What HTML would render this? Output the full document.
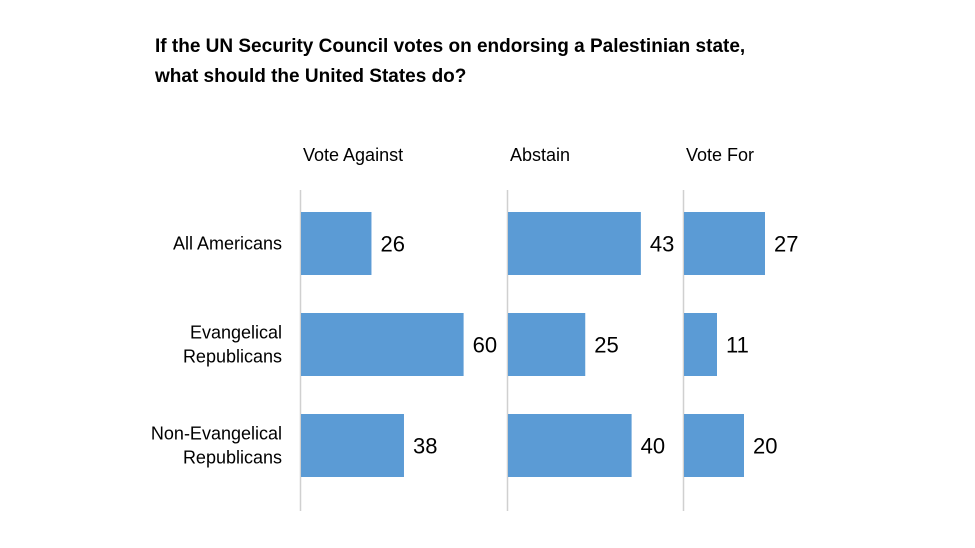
<!DOCTYPE html>
<html><head><meta charset="utf-8"><style>
body{margin:0;background:#fff;}
svg{display:block;font-family:"Liberation Sans",sans-serif;}
</style></head><body>
<svg id="chart" width="975" height="548">
<text x="155" y="52" font-size="19" font-weight="bold" fill="#000">If the UN Security Council votes on endorsing a Palestinian state,</text>
<text x="155" y="82" font-size="19" font-weight="bold" fill="#000">what should the United States do?</text>
<g id="plot"></g>
</svg>
<script>
const categories = [["All Americans"],["Evangelical","Republicans"],["Non-Evangelical","Republicans"]];
const panels = ["Vote Against","Abstain","Vote For"];
const voteAgainst = [26,60,38];
const abstain = [43,25,40];
const voteFor = [27,11,20];
const series = [voteAgainst, abstain, voteFor];

const ns="http://www.w3.org/2000/svg";
const g=document.getElementById('plot');
const panelX=[301,508,684], panelScale=[2.71,3.09,3.0];
const rowTop=[212,313,414], barH=63;
function mk(t,a,txt){const e=document.createElementNS(ns,t);for(const k in a)e.setAttribute(k,a[k]);if(txt!==undefined)e.textContent=txt;g.appendChild(e);return e;}
function xScale(p,v){return panelX[p]+v*panelScale[p];}
categories.forEach((c,i)=>{
  const cy=rowTop[i]+barH/2;
  c.forEach((line,j)=>{
    const e=mk('text',{x:282,y:cy+6+(j-(c.length-1)/2)*24,'font-size':18,'text-anchor':'end',fill:'#000'},line);
    
    
  });
});
panels.forEach((p,pi)=>{
  const h=mk('text',{x:panelX[pi]+2,y:161,'font-size':18,fill:'#000'},p);
  
  
  const ax=mk('line',{x1:panelX[pi]-0.5,x2:panelX[pi]-0.5,y1:190,y2:511,stroke:'#d0d0d0','stroke-width':1.5});
  
  
  series[pi].forEach((v,i)=>{
    const x1=xScale(pi,v);
    const r=mk('rect',{x:panelX[pi],y:rowTop[i],width:x1-panelX[pi],height:barH,fill:'#5b9bd5'});
    
    
    const t=mk('text',{x:x1+9,y:rowTop[i]+barH/2+8,'font-size':22,fill:'#000'},String(v));
    
    
  });
});
</script>
</body></html>
